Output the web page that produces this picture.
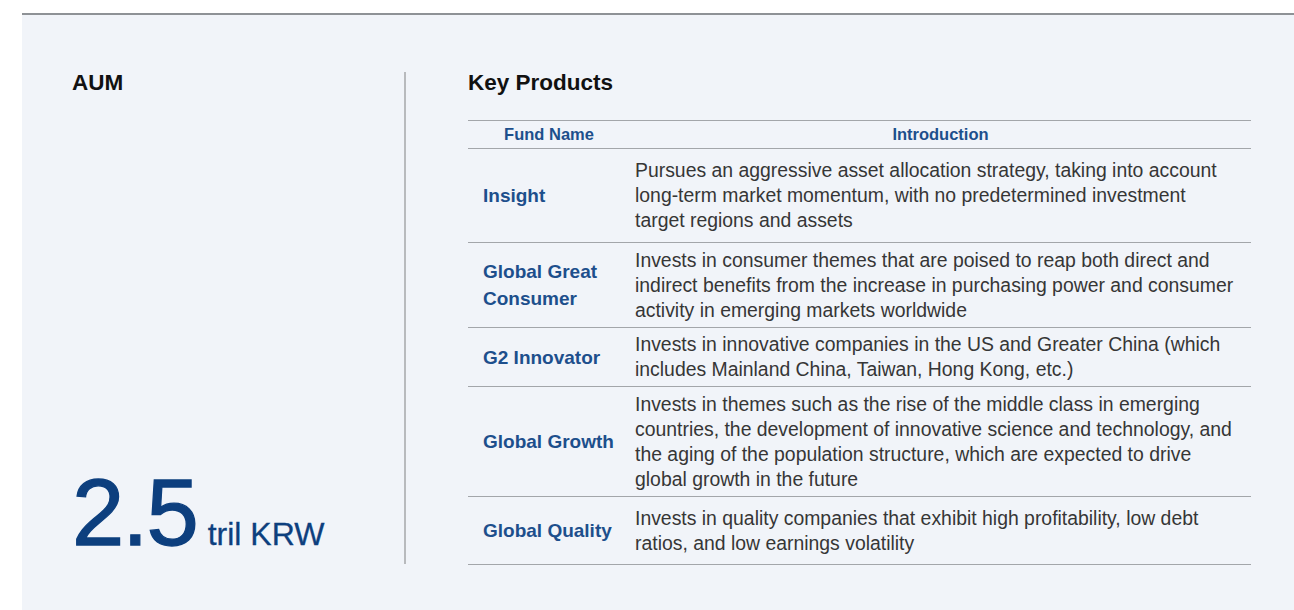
<!DOCTYPE html>
<html>
<head>
<meta charset="utf-8">
<script src="https://cdn.jsdelivr.net/npm/chart.js@4.4.1/dist/chart.umd.min.js"></script>
<style>
  html, body { margin: 0; padding: 0; background: #fff; }
  body { width: 1294px; height: 610px; position: relative; overflow: hidden;
         font-family: "Liberation Sans", Arial, Helvetica, sans-serif; }
  #topline { position: absolute; left: 22px; top: 13px; width: 1272px; height: 2px; background: #8e9296; }
  #panel { position: absolute; left: 22px; top: 15px; width: 1272px; height: 595px; background: #f1f4f9; }
  #aumTitle { position: absolute; left: 72px; top: 70px; font-size: 22.5px; font-weight: bold; color: #111; }
  #divider { position: absolute; left: 404px; top: 72px; width: 1.5px; height: 492px; background: #b8babd; }
  #aumValue { position: absolute; left: 72px; top: 459px; color: #0d3f7e; white-space: nowrap; }
  #aumValue .num { font-size: 94px; letter-spacing: -2px; -webkit-text-stroke: 1.3px #0d3f7e; }
  #aumValue .unit { font-size: 32px; margin-left: 11px; -webkit-text-stroke: 0.3px #0d3f7e; }
  #kpTitle { position: absolute; left: 468px; top: 70px; font-size: 22.5px; font-weight: bold; color: #111; }
  #products { position: absolute; left: 468px; top: 120px; width: 783px; border-collapse: collapse; }
  #products th, #products td { border-top: 1.5px solid #a3a6aa; padding: 0; }
  #products tr:last-child td { border-bottom: 1.5px solid #a3a6aa; }
  #products th { height: 27px; font-size: 16.5px; font-weight: bold; color: #1d4f8c; text-align: center; }
  #products td { vertical-align: middle; }
  #products td.name { width: 147px; padding-left: 15px; font-size: 19px; font-weight: bold; color: #1d4f8c; line-height: 27px; }
  #products td.intro { padding-left: 5px; font-size: 19.4px; color: #363636; line-height: 25px; white-space: nowrap; }
</style>
</head>
<body>
<div id="topline"></div>
<div id="panel"></div>
<div id="aumTitle">AUM</div>
<div id="divider"></div>
<div id="aumValue"></div>
<div id="kpTitle">Key Products</div>
<table id="products"><thead><tr id="headRow"></tr></thead><tbody id="rows"></tbody></table>
<script>
// header labels
const headers = ['Fund Name', 'Introduction'];

// fund names, lines as printed
const fundNames = [
    ['Insight'],
    ['Global Great', 'Consumer'],
    ['G2 Innovator'],
    ['Global Growth'],
    ['Global Quality']
];

// introductions, one entry per printed line
const introductions = [
    ['Pursues an aggressive asset allocation strategy, taking into account',
     'long-term market momentum, with no predetermined investment',
     'target regions and assets'],
    ['Invests in consumer themes that are poised to reap both direct and',
     'indirect benefits from the increase in purchasing power and consumer',
     'activity in emerging markets worldwide'],
    ['Invests in innovative companies in the US and Greater China (which',
     'includes Mainland China, Taiwan, Hong Kong, etc.)'],
    ['Invests in themes such as the rise of the middle class in emerging',
     'countries, the development of innovative science and technology, and',
     'the aging of the population structure, which are expected to drive',
     'global growth in the future'],
    ['Invests in quality companies that exhibit high profitability, low debt',
     'ratios, and low earnings volatility']
];

const aumValue = '2.5';
const aumUnit = 'tril KRW';

// row heights taken from the layout
const rowHeights = [94, 85, 59, 110, 68];

document.getElementById('aumValue').innerHTML =
    `<span class="num">${aumValue}</span><span class="unit">${aumUnit}</span>`;

const headRow = document.getElementById('headRow');
headers.forEach(h => {
    const th = document.createElement('th');
    th.textContent = h;
    headRow.appendChild(th);
});

const tbody = document.getElementById('rows');
fundNames.forEach((name, i) => {
    const tr = document.createElement('tr');
    tr.style.height = rowHeights[i] + 'px';
    const tdName = document.createElement('td');
    tdName.className = 'name';
    tdName.innerHTML = name.join('<br>');
    const tdIntro = document.createElement('td');
    tdIntro.className = 'intro';
    tdIntro.innerHTML = introductions[i].join('<br>');
    tr.appendChild(tdName);
    tr.appendChild(tdIntro);
    tbody.appendChild(tr);
});
</script>
</body>
</html>
